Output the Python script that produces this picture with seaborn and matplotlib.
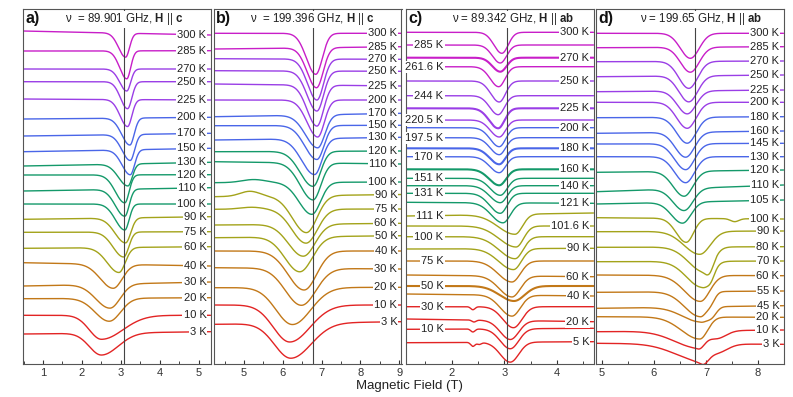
import numpy as np
import pandas as pd
import matplotlib
matplotlib.use("Agg")
import matplotlib.pyplot as plt
import seaborn as sns

# ---------------- data (y in screen-pixel offset units) ----------------
# Panel a: 89.901 GHz, H || c
a_temps = [300, 285, 270, 250, 225, 200, 170, 150, 130, 120, 110, 100, 90, 75, 60, 40, 30, 20, 10, 3]
a_yleft = [31, 51, 69, 81.7, 99, 119, 136, 151.7, 166, 175, 191, 204, 219.3, 232.3, 248.3, 262.7, 286, 298.7, 315.3, 334]
a_yright = [35, 50.7, 69, 81.7, 100, 117.3, 133.3, 148.3, 162.3, 174.7, 187.7, 204, 216.7, 231.7, 246.7, 266, 282, 297.7, 315.3, 331.7]
a_center = [3.12, 3.15, 3.15, 3.17, 3.17, 3.23, 3.24, 3.24, 3.18, 3.10, 3.10, 3.10, 3.12, 3.07, 2.95, 2.80, 2.72, 2.70, 2.50, 2.50]
a_depth = [24, 28, 22, 27, 27, 27, 26, 25, 22, 28, 27, 26, 25, 25, 25, 24, 24, 23, 24, 22]
a_wleft = [0.18, 0.18, 0.18, 0.18, 0.19, 0.21, 0.21, 0.21, 0.24, 0.24, 0.24, 0.24, 0.27, 0.27, 0.3, 0.33, 0.36, 0.36, 0.31, 0.31]
a_wright = [0.1, 0.1, 0.1, 0.11, 0.11, 0.11, 0.11, 0.11, 0.11, 0.11, 0.11, 0.11, 0.13, 0.13, 0.16, 0.23, 0.26, 0.29, 0.55, 0.43]
a_extra = {}

# Panel b: 199.396 GHz, H || c
b_temps = [300, 285, 270, 250, 225, 200, 170, 150, 130, 120, 110, 100, 90, 75, 60, 50, 40, 30, 20, 10, 3]
b_yleft = [33.3, 49, 58.7, 70.7, 84, 100, 116.7, 125.7, 140, 151.7, 161.7, 182.7, 196.7, 209.3, 225, 237.7, 251, 267.7, 287.7, 305, 324.3]
b_yright = [33.3, 46.7, 59.3, 71.3, 86, 100, 113.3, 125.3, 137.3, 151, 164, 182, 194.5, 209, 223.3, 235.7, 251, 269, 287.3, 305, 321.7]
b_center = [6.85, 6.87, 6.88, 6.88, 6.88, 6.90, 6.90, 6.88, 6.82, 6.78, 6.78, 6.75, 6.61, 6.60, 6.53, 6.44, 6.55, 6.48, 6.25, 6.18, 6.21]
b_depth = [41, 40, 41, 40, 41, 37, 33, 34, 36, 35, 37, 32, 37, 34, 32, 35, 39, 37, 37, 37, 35]
b_wleft = [0.24, 0.24, 0.24, 0.25, 0.25, 0.27, 0.31, 0.31, 0.33, 0.33, 0.33, 0.33, 0.36, 0.36, 0.38, 0.38, 0.41, 0.41, 0.42, 0.42, 0.42]
b_wright = [0.17, 0.17, 0.17, 0.17, 0.17, 0.17, 0.18, 0.18, 0.19, 0.19, 0.2, 0.22, 0.27, 0.29, 0.3, 0.32, 0.32, 0.37, 0.47, 0.52, 0.52]
b_extra = {100: [(5.25, -3, 0.3)], 90: [(5.15, -5, 0.25)], 75: [(5.2, -2, 0.3)]}

# Panel c: 89.342 GHz, H || ab
c_temps = [300, 285, 270, 261.6, 250, 244, 225, 220.5, 200, 197.5, 180, 170, 160, 151, 140, 131, 121,
           111, 101.6, 100, 90, 75, 60, 50, 40, 30, 20, 10, 5]
c_yleft = [32.3, 45, 57.7, 66.7, 81, 95.7, 108.3, 120, 127.7, 137.7, 148.3, 156.7, 169.3, 178.3, 185.7, 193.3, 202.3,
           216, 226, 236.7, 249, 261, 275, 286, 294, 306.7, 319, 329.3, 342.7]
c_yright = [32.3, 45, 57.7, 66.7, 81, 95.7, 108.3, 120, 127.7, 137.7, 148.3, 156.7, 169.3, 178.3, 185.7, 193.3, 203.3,
            213, 226, 236.7, 248.3, 261, 276.7, 286, 296, 306.7, 321.7, 328.3, 341.7]
c_center = [2.95, 2.92, 2.92, 2.89, 2.90, 2.88, 2.88, 2.90, 2.90, 2.90, 2.90, 2.90, 2.90, 2.92, 2.92, 2.92, 2.97,
            3.20, 3.22, 3.20, 3.17, 3.14, 3.14, 3.18, 3.14, 3.17, 3.11, 3.11, 3.11]
c_depth = [21, 18, 14, 20, 21, 19, 20, 17, 19, 17, 16, 16, 16, 17, 17, 20, 20,
           20, 21, 22, 21, 21, 21, 15, 21, 21, 19, 20, 20]
c_wleft = [0.15, 0.15, 0.15, 0.16, 0.16, 0.16, 0.17, 0.17, 0.17, 0.17, 0.18, 0.18, 0.19, 0.19, 0.2, 0.2, 0.22,
           0.32, 0.32, 0.3, 0.28, 0.26, 0.24, 0.27, 0.22, 0.2, 0.19, 0.19, 0.19]
c_wright = [0.12, 0.12, 0.12, 0.12, 0.12, 0.12, 0.12, 0.12, 0.12, 0.12, 0.12, 0.12, 0.13, 0.13, 0.13, 0.13, 0.14,
            0.14, 0.14, 0.15, 0.15, 0.16, 0.16, 0.2, 0.16, 0.16, 0.16, 0.16, 0.16]
c_extra = {30: [(2.40, 3, 0.04)], 20: [(2.42, 2, 0.04)], 10: [(2.40, 3, 0.04)], 5: [(2.40, 4, 0.04), (2.52, 2, 0.04)]}

# Panel d: 199.65 GHz, H || ab
d_temps = [300, 285, 270, 250, 225, 200, 180, 160, 145, 130, 120, 110, 105, 100, 90, 80, 70, 60, 55, 45, 20, 10, 3]
d_yleft = [33.3, 47.7, 61.7, 76.7, 91.7, 102.3, 117.7, 133.3, 144, 156.7, 172.3, 191.7, 204, 217.7, 231.7, 247.3, 261.7,
           275, 292.3, 308.3, 316.7, 331.7, 343.3]
d_yright = [33.3, 46.7, 61, 75, 90, 102.3, 116.7, 131, 143.3, 156.7, 170, 185, 200, 219, 231, 246.7, 261, 275.7, 291,
            305.7, 317.3, 330, 344.3]
d_center = [6.70, 6.70, 6.67, 6.67, 6.64, 6.64, 6.64, 6.61, 6.61, 6.61, 6.58, 6.58, 6.55, 6.62, 6.88, 6.97, 6.93,
            6.89, 6.89, 6.90, 6.88, 6.85, 6.92]
d_depth = [25, 25, 27, 26, 23, 26, 26, 25, 26, 26, 25, 22, 21, 24, 23, 25, 26, 26, 25, 15, 22, 17, 17]
d_wleft = [0.19, 0.19, 0.19, 0.19, 0.19, 0.2, 0.2, 0.2, 0.21, 0.21, 0.21, 0.21, 0.21, 0.19, 0.3, 0.3, 0.3,
           0.3, 0.3, 0.35, 0.35, 0.45, 0.5]
d_wright = [0.17, 0.17, 0.17, 0.17, 0.17, 0.17, 0.17, 0.17, 0.17, 0.17, 0.17, 0.17, 0.16, 0.14, 0.2, 0.16, 0.16,
            0.18, 0.14, 0.14, 0.15, 0.12, 0.12]
d_extra = {100: [(7.55, 3, 0.08)], 80: [(7.08, 6, 0.07)], 70: [(7.1, 6, 0.07)], 55: [(7.1, 6, 0.08)],
           45: [(7.12, 7, 0.09)], 10: [(7.2, 8, 0.18)], 3: [(7.2, 9, 0.2)]}

# ---------------- styles ----------------
GROUP_COLORS = ["#c81ec8", "#9a3ee6", "#4a66e8", "#14996a", "#a3a31a", "#c27818", "#e22424"]

panels = [
    dict(temps=a_temps, yl=a_yleft, yr=a_yright, c=a_center, d=a_depth, wl=a_wleft, wr=a_wright, extra=a_extra,
         xlim=(0.487, 5.30), vline=3.07, major=[1, 2, 3, 4, 5], letter="a)",
         title=r"ν  = 89.901 GHz, $\mathbf{H}$ || $\mathbf{c}$", tx=0.224, groups=[2, 3, 3, 4, 3, 3, 2],
         thick=[], left_labels=False, pos=23),
    dict(temps=b_temps, yl=b_yleft, yr=b_yright, c=b_center, d=b_depth, wl=b_wleft, wr=b_wright, extra=b_extra,
         xlim=(4.229, 9.06), vline=6.79, major=[5, 6, 7, 8, 9], letter="b)",
         title=r"ν  = 199.396 GHz, $\mathbf{H}$ || $\mathbf{c}$", tx=0.19, groups=[2, 4, 3, 3, 4, 3, 2],
         thick=[], left_labels=False, pos=214),
    dict(temps=c_temps, yl=c_yleft, yr=c_yright, c=c_center, d=c_depth, wl=c_wleft, wr=c_wright, extra=c_extra,
         xlim=(1.13, 4.69), vline=3.04, major=[2, 3, 4], letter="c)",
         title=r"ν = 89.342 GHz, $\mathbf{H}$ || $\mathbf{ab}$", tx=0.244, groups=[4, 4, 4, 5, 4, 4, 4],
         thick=[270, 225, 180, 160, 50], left_labels=True, pos=406),
    dict(temps=d_temps, yl=d_yleft, yr=d_yright, c=d_center, d=d_depth, wl=d_wleft, wr=d_wright, extra=d_extra,
         xlim=(4.89, 8.487), vline=6.79, major=[5, 6, 7, 8], letter="d)",
         title=r"ν = 199.65 GHz, $\mathbf{H}$ || $\mathbf{ab}$", tx=0.235, groups=[2, 4, 4, 3, 4, 4, 2],
         thick=[], left_labels=False, pos=596),
]

sns.set_theme(style="ticks")
plt.rcParams["font.family"] = ["Liberation Sans", "DejaVu Sans"]
plt.rcParams["mathtext.fontset"] = "custom"
plt.rcParams["mathtext.rm"] = "Liberation Sans"
plt.rcParams["mathtext.bf"] = "Liberation Sans:bold"

W, H = 793, 397
fig = plt.figure(figsize=(W / 100, H / 100), dpi=100)
TOP, BOT = 8.5, 364.0
AXW = 187.5


def fmt_temp(t):
    return f"{t:g} K"


for p in panels:
    ax = fig.add_axes([p["pos"] / W, 1 - BOT / H, AXW / W, (BOT - TOP) / H])
    x = np.linspace(p["xlim"][0], p["xlim"][1], 700)
    colors = []
    for gi, n in enumerate(p["groups"]):
        colors += [GROUP_COLORS[gi]] * n
    rows = []
    for i, t in enumerate(p["temps"]):
        base = p["yl"][i] + (p["yr"][i] - p["yl"][i]) * (x - x[0]) / (x[-1] - x[0])
        s = np.where(x < p["c"][i], p["wl"][i], p["wr"][i])
        y = base + p["d"][i] * np.exp(-0.5 * ((x - p["c"][i]) / s) ** 2)
        for (c2, d2, s2) in p["extra"].get(t, []):
            y = y + d2 * np.exp(-0.5 * ((x - c2) / s2) ** 2)
        rows.append(pd.DataFrame({"field": x, "signal": y, "trace": fmt_temp(t)}))
    df = pd.concat(rows, ignore_index=True)
    order = [fmt_temp(t) for t in p["temps"]]
    sns.lineplot(data=df, x="field", y="signal", hue="trace", hue_order=order,
                 palette=dict(zip(order, colors)), estimator=None, sort=False,
                 legend=False, ax=ax, linewidth=1.0)
    for ln, t in zip(ax.lines, p["temps"]):
        if t in p["thick"]:
            ln.set_linewidth(1.5)

    ax.axvline(p["vline"], color="#444444", lw=0.8, zorder=3)
    ax.set_xlim(*p["xlim"])
    ax.set_ylim(BOT, TOP)
    ax.set_xticks(p["major"])
    ax.set_xticks(np.arange(np.ceil(p["xlim"][0] * 2) / 2, p["xlim"][1], 0.5), minor=True)
    ax.set_yticks([])
    ax.tick_params(axis="x", which="major", direction="in", length=3, width=0.8, labelsize=8,
                   colors="#333333", pad=3)
    ax.tick_params(axis="x", which="minor", direction="in", length=2, width=0.6)
    for sp in ax.spines.values():
        sp.set_visible(True)
        sp.set_color("#555555")
        sp.set_linewidth(0.8)
    ax.set_xlabel("")
    ax.set_ylabel("")

    # labels
    for i, t in enumerate(p["temps"]):
        on_left = p["left_labels"] and (i % 2 == 1)
        if on_left:
            ax.text(0.2, p["yl"][i], fmt_temp(t), transform=ax.get_yaxis_transform(),
                    ha="right", va="center", fontsize=8, color="#222222", zorder=6,
                    bbox=dict(facecolor="white", edgecolor="none", pad=0.8))
        else:
            ax.text(0.978, p["yr"][i], fmt_temp(t), transform=ax.get_yaxis_transform(),
                    ha="right", va="center", fontsize=8, color="#222222", zorder=6,
                    bbox=dict(facecolor="white", edgecolor="none", pad=0.8))

    ax.text(0.012, 0.972, p["letter"], transform=ax.transAxes, fontsize=11.5, fontweight="bold",
            ha="left", va="center", color="#111111", zorder=7)
    ax.text(p["tx"], 0.97, p["title"], transform=ax.transAxes, fontsize=8.3,
            ha="left", va="center", color="#222222", zorder=5,
            bbox=dict(facecolor="white", edgecolor="none", pad=0.3))

fig.text(0.516, 0.027, "Magnetic Field (T)", ha="center", va="center", fontsize=9.5, color="#222222")
fig.savefig("out.png", dpi=100)
